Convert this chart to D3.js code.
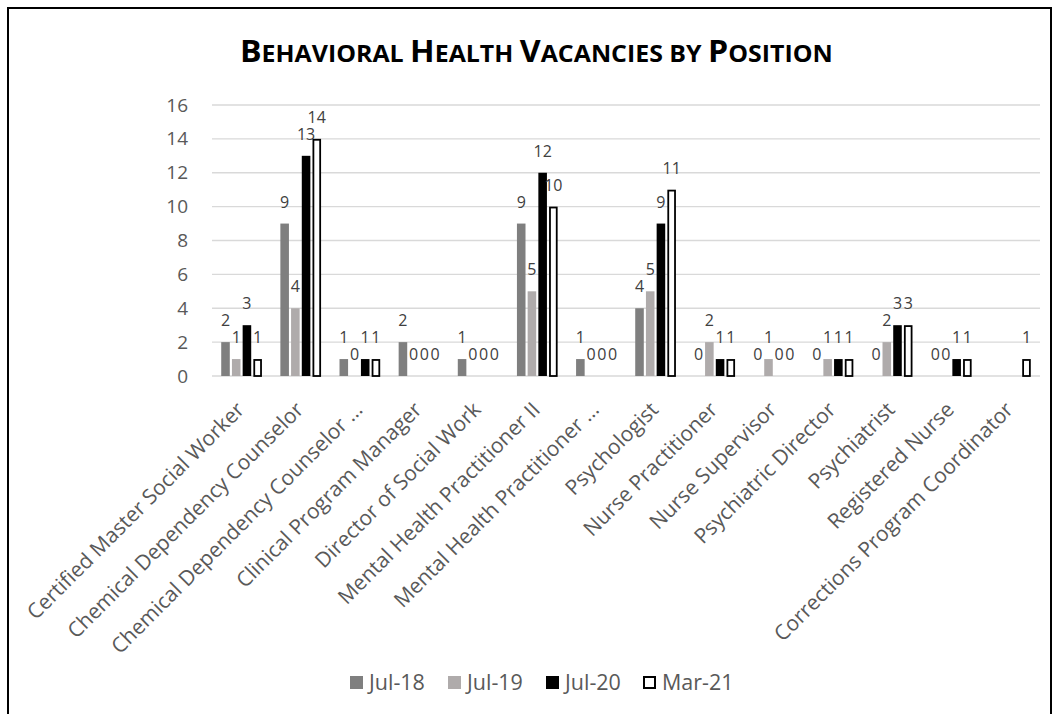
<!DOCTYPE html>
<html>
<head>
<meta charset="utf-8">
<script src="https://cdn.jsdelivr.net/npm/d3@7"></script>
<style>
  body { margin: 0; background: #fff; }
  svg { display: block; font-family: "Open Sans", sans-serif; }
</style>
</head>
<body>
<svg id="chart" width="1058" height="714"></svg>
<script>
// categories (x axis)
const positions = [
  "Certified Master Social Worker",
  "Chemical Dependency Counselor",
  "Chemical Dependency Counselor …",
  "Clinical Program Manager",
  "Director of Social Work",
  "Mental Health Practitioner II",
  "Mental Health Practitioner …",
  "Psychologist",
  "Nurse Practitioner",
  "Nurse Supervisor",
  "Psychiatric Director",
  "Psychiatrist",
  "Registered Nurse",
  "Corrections Program Coordinator"
];

const seriesNames = ["Jul-18", "Jul-19", "Jul-20", "Mar-21"];

// null = no bar / no label
const jul18 = [2, 9, 1, 2, 1, 9, 1, 4, 0, 0, 0, 0, 0, null];
const jul19 = [1, 4, 0, 0, 0, 5, 0, 5, 2, 1, 1, 2, 0, null];
const jul20 = [3, 13, 1, 0, 0, 12, 0, 9, 1, 0, 1, 3, 1, null];
const mar21 = [1, 14, 1, 0, 0, 10, 0, 11, 1, 0, 1, 3, 1, 1];

const yTicks = [0, 2, 4, 6, 8, 10, 12, 14, 16];

const seriesValues = [jul18, jul19, jul20, mar21];
const fills = ["#7f7f7f", "#afabab", "#000000", "#ffffff"];
const strokes = ["none", "none", "none", "#000000"];

const svg = d3.select("#chart");

// outer frame
svg.append("rect")
  .attr("x", 8).attr("y", 8)
  .attr("width", 1043).attr("height", 730)
  .attr("fill", "none")
  .attr("stroke", "#000")
  .attr("stroke-width", 2);

// title in small caps
const title = svg.append("text")
  .attr("x", 0).attr("y", 0)
  .attr("font-weight", "bold")
  .attr("fill", "#000");
const titleText = "Behavioral Health Vacancies by Position";
titleText.split(" ").forEach((word, wi) => {
  if (wi > 0) title.append("tspan").attr("font-size", 24).text(" ");
  const first = word[0];
  const rest = word.slice(1);
  const bigFirst = word !== "by";
  title.append("tspan").attr("font-size", bigFirst ? 31 : 24).text(first.toUpperCase());
  if (rest) title.append("tspan").attr("font-size", 24).text(rest.toUpperCase());
});
const tb = title.node().getBBox();
const sx = 593 / tb.width;
title.attr("transform", `translate(240,62) scale(${sx},1) translate(${-tb.x},0)`);

// scales
const x0 = d3.scaleBand().domain(positions).range([212, 1040]).padding(0);
const x1 = d3.scaleBand().domain(seriesNames).range([-20.35, 20.35]).paddingInner(0.2).paddingOuter(0);
const y = d3.scaleLinear().domain([0, 16]).range([376, 105]);

// gridlines
svg.append("g")
  .selectAll("line")
  .data(yTicks)
  .join("line")
  .attr("x1", 212).attr("x2", 1040)
  .attr("y1", d => y(d)).attr("y2", d => y(d))
  .attr("stroke", "#d9d9d9")
  .attr("stroke-width", 1.3);

// y axis labels
const yAxis = svg.append("g")
  .attr("transform", "translate(198,0)")
  .call(d3.axisLeft(y).tickValues(yTicks).tickSize(0).tickPadding(10));
yAxis.select(".domain").remove();
yAxis.selectAll("text")
  .attr("font-size", 19)
  .attr("font-family", "Open Sans, sans-serif")
  .attr("fill", "#595959");

// bars
const groups = svg.append("g")
  .selectAll("g")
  .data(positions)
  .join("g")
  .attr("transform", d => `translate(${x0(d) + x0.bandwidth() / 2},0)`);

const cells = groups.selectAll(".cell")
  .data((d, i) => seriesNames.map((s, si) => ({ s, si, v: seriesValues[si][i] })).filter(c => c.v !== null))
  .join("g")
  .attr("class", "cell");

cells.filter(c => c.v > 0)
  .append("rect")
  .attr("x", c => x1(c.s) + (c.si === 3 ? 0.9 : 0))
  .attr("width", c => x1.bandwidth() - (c.si === 3 ? 1.8 : 0))
  .attr("y", c => y(c.v) + (c.si === 3 ? 0.9 : 0))
  .attr("height", c => y(0) - y(c.v) - (c.si === 3 ? 0.9 : 0))
  .attr("fill", c => fills[c.si])
  .attr("stroke", c => strokes[c.si])
  .attr("stroke-width", 1.8);

cells.append("text")
  .attr("x", c => x1(c.s) + x1.bandwidth() / 2)
  .attr("y", c => y(c.v) - 16)
  .attr("text-anchor", "middle")
  .attr("font-size", 16)
  .attr("fill", "#404040")
  .text(c => c.v);

// x axis labels
svg.append("g")
  .selectAll("text")
  .data(positions)
  .join("text")
  .attr("transform", d => `translate(${x0(d) + x0.bandwidth() / 2 + 4},411) rotate(-45)`)
  .attr("text-anchor", "end")
  .attr("font-size", 21)
  .attr("fill", "#595959")
  .text(d => d);

// legend
const legendX = [350, 448, 546, 643];
const legend = svg.append("g")
  .selectAll("g")
  .data(seriesNames)
  .join("g")
  .attr("transform", (d, i) => `translate(${legendX[i]},676)`);
legend.append("rect")
  .attr("x", (d, i) => i === 3 ? 1 : 0)
  .attr("y", (d, i) => i === 3 ? 1 : 0)
  .attr("width", (d, i) => i === 3 ? 11 : 13)
  .attr("height", (d, i) => i === 3 ? 11 : 13)
  .attr("fill", (d, i) => fills[i])
  .attr("stroke", (d, i) => strokes[i])
  .attr("stroke-width", 2);
legend.append("text")
  .attr("x", 19)
  .attr("y", 14)
  .attr("font-size", 21.5)
  .attr("fill", "#595959")
  .text(d => d);
</script>
</body>
</html>
